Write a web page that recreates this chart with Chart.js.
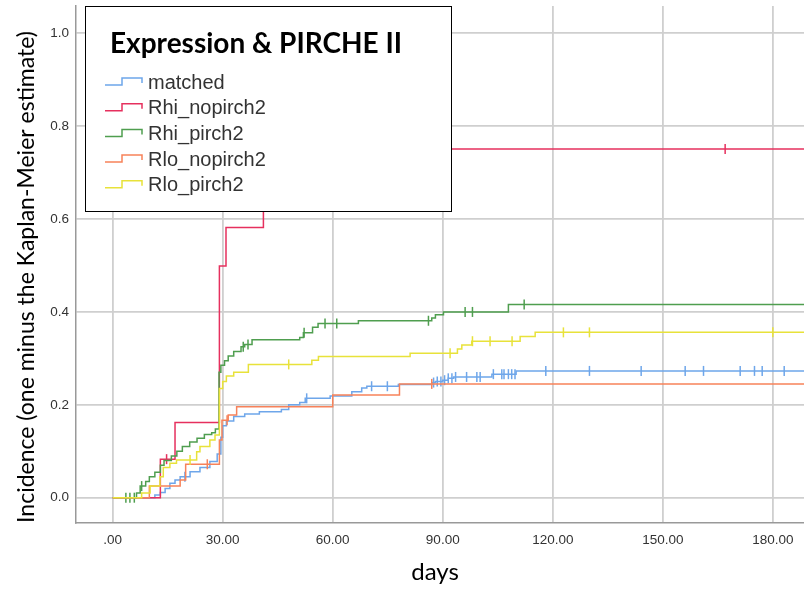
<!DOCTYPE html>
<html><head><meta charset="utf-8">
<script src="https://cdn.jsdelivr.net/npm/chart.js@4.4.1/dist/chart.umd.min.js"></script>
<style>html,body{margin:0;padding:0;background:#fff}canvas{display:block}</style>
</head><body>
<canvas id="c" width="804" height="591"></canvas>
<script>
// ---- data ----
const seriesNames = ['matched', 'Rhi_nopirch2', 'Rhi_pirch2', 'Rlo_nopirch2', 'Rlo_pirch2'];
const seriesColors = ['#6ea6ea', '#e6305e', '#4f9e4f', '#f7825a', '#e8e23a'];

const matchedTimes  = [0, 11.5, 13, 14.3, 15.6, 17, 18.4, 21.1, 23.8, 26.5, 28.5, 29.5, 30, 31, 33, 36, 40, 46, 48, 51, 52.5, 59.3, 65.2, 67.9, 69.3, 77.9, 87, 88, 90, 91.5, 93, 103.4, 110, 190];
const matchedValues = [0, 0.006, 0.011, 0.02, 0.031, 0.038, 0.045, 0.056, 0.065, 0.078, 0.094, 0.13, 0.155, 0.165, 0.175, 0.18, 0.185, 0.19, 0.2, 0.205, 0.214, 0.219, 0.228, 0.236, 0.240, 0.244, 0.248, 0.25, 0.253, 0.257, 0.26, 0.266, 0.273, 0.273];
const matchedCensored = [19.7, 52.9, 70.6, 74.9, 87.5, 88.5, 89.5, 90.5, 91.5, 92.5, 93.5, 96.5, 99.3, 100.2, 103.8, 106.1, 106.7, 107.9, 108.8, 109.7, 118.1, 130, 144.1, 156.1, 161.1, 171.1, 175, 177.1, 183.1];

const rhiNopirchTimes  = [0, 13, 17, 29.1, 30.9, 41.1, 50, 190];
const rhiNopirchValues = [0, 0.083, 0.162, 0.499, 0.582, 0.667, 0.751, 0.751];
const rhiNopirchCensored = [14.7, 167];

const rhiPirchTimes  = [0, 6.5, 7.5, 9, 10, 11.5, 13, 14, 16, 17.5, 19, 21, 23, 25, 27, 28, 29, 29.5, 30.5, 31.5, 33, 35, 36, 38, 51, 52, 54.5, 56, 67, 87, 88, 90.2, 107.9, 190];
const rhiPirchValues = [0, 0.01, 0.025, 0.035, 0.045, 0.055, 0.07, 0.08, 0.09, 0.1, 0.11, 0.12, 0.128, 0.136, 0.14, 0.148, 0.27, 0.285, 0.295, 0.305, 0.315, 0.325, 0.33, 0.34, 0.345, 0.355, 0.367, 0.375, 0.381, 0.387, 0.394, 0.40, 0.416, 0.416];
const rhiPirchCensored = [3.6, 4.7, 5.9, 7.9, 35.6, 36.9, 52.2, 57.9, 61.1, 86.1, 96.1, 98.1, 112.2];

const rloNopirchTimes  = [0, 10, 18.4, 19.9, 29.1, 29.8, 31.5, 33.8, 60, 78.2, 190];
const rloNopirchValues = [0, 0.025, 0.038, 0.072, 0.124, 0.167, 0.178, 0.196, 0.221, 0.245, 0.245];
const rloNopirchCensored = [25.8, 31.2, 87];

const rloPirchTimes  = [0, 7.9, 10.2, 12.9, 13.8, 15.6, 17.4, 22.9, 23.8, 26.5, 27.9, 29.1, 30, 31, 33, 37, 54.3, 56.1, 81.1, 94, 95.2, 97.9, 111.1, 115.2, 190];
const rloPirchValues = [0, 0.01, 0.025, 0.045, 0.065, 0.074, 0.081, 0.099, 0.11, 0.124, 0.135, 0.235, 0.25, 0.262, 0.27, 0.287, 0.296, 0.304, 0.311, 0.320, 0.329, 0.337, 0.347, 0.356, 0.356];
const rloPirchCensored = [21.1, 48, 92, 98.1, 102.9, 108.9, 122.9, 130, 180];

const xTickValues = [0, 30, 60, 90, 120, 150, 180];
const yTickValues = [0, 0.2, 0.4, 0.6, 0.8, 1.0];
const legendTitle = 'Expression & PIRCHE II';
const xAxisTitle = 'days';
const yAxisTitle = 'Incidence (one minus the Kaplan-Meier estimate)';

// ---- build datasets ----
const allTimes = [matchedTimes, rhiNopirchTimes, rhiPirchTimes, rloNopirchTimes, rloPirchTimes];
const allValues = [matchedValues, rhiNopirchValues, rhiPirchValues, rloNopirchValues, rloPirchValues];
const allCensored = [matchedCensored, rhiNopirchCensored, rhiPirchCensored, rloNopirchCensored, rloPirchCensored];

function stepValueAt(times, values, t) {
  let v = values[0];
  for (let i = 0; i < times.length; i++) { if (times[i] <= t) v = values[i]; }
  return v;
}

const datasets = [];
seriesNames.forEach((name, i) => {
  datasets.push({
    label: name,
    data: allTimes[i].map((t, j) => ({x: t, y: allValues[i][j]})),
    borderColor: seriesColors[i],
    borderWidth: 1.5,
    stepped: 'before',
    pointRadius: 0,
    fill: false,
    order: 10 - i
  });
  datasets.push({
    label: name + ' censored',
    data: allCensored[i].map(t => ({x: t, y: stepValueAt(allTimes[i], allValues[i], t)})),
    showLine: false,
    pointStyle: 'line',
    rotation: 90,
    pointRadius: 5,
    pointBorderWidth: 1.5,
    borderColor: seriesColors[i],
    backgroundColor: seriesColors[i],
    order: 10 - i
  });
});

const overlayPlugin = {
  id: 'overlay',
  afterDraw(chart) {
    const ctx = chart.ctx;
    ctx.save();
    // axis titles
    ctx.fillStyle = '#000';
    ctx.textAlign = 'center';
    ctx.textBaseline = 'middle';
    ctx.font = '24px Lato';
    ctx.fillText(xAxisTitle, 435, 572);
    ctx.save();
    ctx.translate(27, 277);
    ctx.rotate(-Math.PI / 2);
    ctx.font = '23px Lato';
    ctx.fillText(yAxisTitle, 0, 0);
    ctx.restore();
    // legend box
    ctx.fillStyle = '#fff';
    ctx.fillRect(85, 6, 366, 205);
    ctx.strokeStyle = '#000';
    ctx.lineWidth = 1;
    ctx.strokeRect(85.5, 6.5, 366, 205);
    ctx.fillStyle = '#000';
    ctx.textAlign = 'left';
    ctx.textBaseline = 'alphabetic';
    ctx.font = 'bold 28px Lato';
    ctx.fillText(legendTitle, 110, 53);
    ctx.font = '20px "Liberation Sans"';
    ctx.textBaseline = 'middle';
    seriesNames.forEach((name, i) => {
      const y = 82 + i * 25.7;
      ctx.strokeStyle = seriesColors[i];
      ctx.lineWidth = 1.5;
      ctx.beginPath();
      ctx.moveTo(105, y + 3);
      ctx.lineTo(122, y + 3);
      ctx.lineTo(122, y - 4);
      ctx.lineTo(142, y - 4);
      ctx.lineTo(142, y + 1);
      ctx.stroke();
      ctx.fillStyle = '#333';
      ctx.fillText(name, 148, y + 1);
    });
    ctx.restore();
  }
};

new Chart(document.getElementById('c'), {
  type: 'line',
  data: { datasets },
  plugins: [overlayPlugin],
  options: {
    responsive: false,
    animation: false,
    devicePixelRatio: 1,
    layout: { autoPadding: false, padding: { top: 6, right: 0, left: 0, bottom: 0 } },
    plugins: { legend: { display: false }, tooltip: { enabled: false } },
    scales: {
      x: {
        type: 'linear', min: -10, max: 188.5,
        afterBuildTicks: s => { s.ticks = xTickValues.map(v => ({value: v})); },
        afterFit: s => { s.height = 68; s.paddingLeft = 0; s.paddingRight = 0; },
        ticks: {
          callback: v => v === 0 ? '.00' : v.toFixed(2),
          font: { family: 'Liberation Sans', size: 13.5 },
          color: '#333', padding: 9, maxRotation: 0
        },
        grid: { color: '#cfcfcf', lineWidth: 1.8, drawTicks: false },
        border: { color: '#999', width: 1.5 }
      },
      y: {
        type: 'linear', min: -0.0545, max: 1.0588,
        afterBuildTicks: s => { s.ticks = yTickValues.map(v => ({value: v})); },
        afterFit: s => { s.width = 76; s.paddingTop = 0; s.paddingBottom = 0; },
        ticks: {
          callback: v => v.toFixed(1),
          font: { family: 'Liberation Sans', size: 13.5 },
          color: '#333', padding: 7
        },
        grid: { color: '#cfcfcf', lineWidth: 1.8, drawTicks: false },
        border: { color: '#999', width: 1.5 }
      }
    }
  }
});
</script>
</body></html>
